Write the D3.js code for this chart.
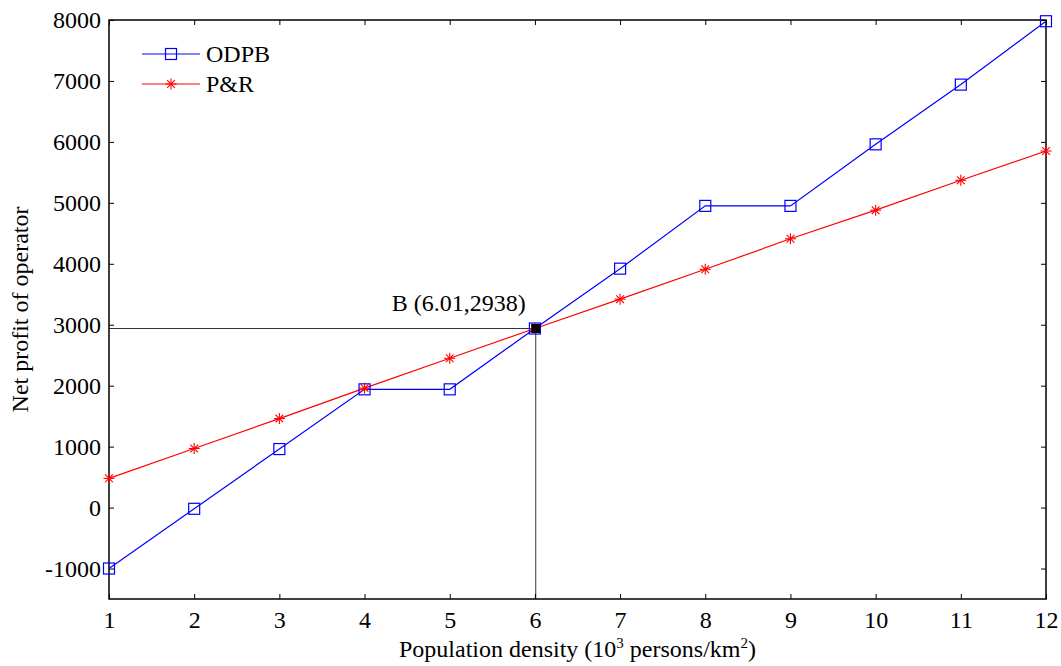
<!DOCTYPE html>
<html><head><meta charset="utf-8">
<script src="https://cdn.jsdelivr.net/npm/d3@7"></script>
<style>body{margin:0;background:#fff;} svg{display:block;} svg text{font-family:"Liberation Serif","Times New Roman",serif !important;}</style>
</head><body>
<svg id="c" width="1061" height="666"></svg>
<script>
const xValues = [1,2,3,4,5,6,7,8,9,10,11,12];
const odpb = [-1000,-20,960,1940,1940,2938,3920,4950,4950,5960,6940,7980];
const pr = [480,970,1460,1960,2450,2938,3420,3910,4410,4880,5370,5850];
const yTicks = [-1000,0,1000,2000,3000,4000,5000,6000,7000,8000];
const xTicks = [1,2,3,4,5,6,7,8,9,10,11,12];
const pointB = {x:6.01, y:2938, label:"B (6.01,2938)"};

const FS = 24;
const svg = d3.select("#c");
const L=109, R=1046, T=20, B=599;
const x = d3.scaleLinear().domain([1,12]).range([L,R]);
const y = d3.scaleLinear().domain([-1500,8000]).range([B,T]);
const fmt = d => String(d);

const gx = svg.append("g").attr("transform",`translate(0,${B})`)
  .call(d3.axisBottom(x).tickValues(xTicks).tickSizeInner(-5).tickSizeOuter(0).tickPadding(12).tickFormat(fmt));
const gxt = svg.append("g").attr("transform",`translate(0,${T})`)
  .call(d3.axisTop(x).tickValues(xTicks).tickSizeInner(-5).tickSizeOuter(0).tickFormat(""));
const gy = svg.append("g").attr("transform",`translate(${L},0)`)
  .call(d3.axisLeft(y).tickValues(yTicks).tickSizeInner(-5).tickSizeOuter(0).tickPadding(8).tickFormat(fmt));
const gyr = svg.append("g").attr("transform",`translate(${R},0)`)
  .call(d3.axisRight(y).tickValues(yTicks).tickSizeInner(-5).tickSizeOuter(0).tickFormat(""));
[gx,gxt,gy,gyr].forEach(g=>{
  g.attr("font-family",null).attr("font-size",null);
  g.select(".domain").remove();
  g.selectAll("line").attr("stroke","#000").attr("stroke-width",1);
  g.selectAll("text").attr("font-size",FS).attr("fill","#000");
});
gx.selectAll("text").attr("dy","0.71em");
svg.append("rect").attr("x",L).attr("y",T).attr("width",R-L).attr("height",B-T)
  .attr("fill","none").attr("stroke","#000").attr("stroke-width",1.5);

svg.append("line").attr("x1",L).attr("x2",x(pointB.x)).attr("y1",y(pointB.y)).attr("y2",y(pointB.y)).attr("stroke","#000").attr("stroke-width",0.8);
svg.append("line").attr("x1",x(pointB.x)).attr("x2",x(pointB.x)).attr("y1",y(pointB.y)).attr("y2",B).attr("stroke","#000").attr("stroke-width",0.8);

const line = d3.line().x((d,i)=>x(xValues[i])).y(d=>y(d));
svg.append("path").datum(odpb).attr("d",line).attr("fill","none").attr("stroke","#0000ff").attr("stroke-width",1.2);
svg.append("path").datum(pr).attr("d",line).attr("fill","none").attr("stroke","#ff0000").attr("stroke-width",1.2);

function square(g,cx,cy,col){
  g.append("rect").attr("x",cx-5.5).attr("y",cy-5.5).attr("width",11).attr("height",11).attr("fill","none").attr("stroke",col).attr("stroke-width",1.2);
}
function star(g,cx,cy,col){
  const r=5.5;
  const p=[[-r,0,r,0],[0,-r,0,r],[-r*0.7,-r*0.7,r*0.7,r*0.7],[-r*0.7,r*0.7,r*0.7,-r*0.7]];
  p.forEach(a=>g.append("line").attr("x1",cx+a[0]).attr("y1",cy+a[1]).attr("x2",cx+a[2]).attr("y2",cy+a[3]).attr("stroke",col).attr("stroke-width",1.1));
}
const mg = svg.append("g");
odpb.forEach((v,i)=>square(mg,x(xValues[i]),y(v),"#0000ff"));
pr.forEach((v,i)=>star(mg,x(xValues[i]),y(v),"#ff0000"));

svg.append("rect").attr("x",x(pointB.x)-4.5).attr("y",y(pointB.y)-4.5).attr("width",9).attr("height",9).attr("fill","#000");
svg.append("text").attr("x",x(pointB.x)-144).attr("y",y(pointB.y)-18).attr("font-size",FS).text(pointB.label);

const lg = svg.append("g");
[["ODPB","#0000ff",square],["P&R","#ff0000",star]].forEach((d,i)=>{
  const ly = 54+i*30;
  lg.append("line").attr("x1",142).attr("x2",200).attr("y1",ly).attr("y2",ly).attr("stroke",d[1]).attr("stroke-width",1.2);
  d[2](lg,171,ly,d[1]);
  lg.append("text").attr("x",206).attr("y",ly+8).attr("font-size",FS).text(d[0]);
});

const xl = svg.append("text").attr("x",(L+R)/2).attr("y",657).attr("text-anchor","middle").attr("font-size",FS);
xl.append("tspan").text("Population density (10");
xl.append("tspan").attr("dy",-9).attr("font-size",15).text("3");
xl.append("tspan").attr("dy",9).text(" persons/km");
xl.append("tspan").attr("dy",-9).attr("font-size",15).text("2");
xl.append("tspan").attr("dy",9).text(")");
svg.append("text").attr("transform",`translate(28,${(T+B)/2}) rotate(-90)`).attr("text-anchor","middle").attr("font-size",FS).text("Net profit of operator");
</script>
</body></html>
